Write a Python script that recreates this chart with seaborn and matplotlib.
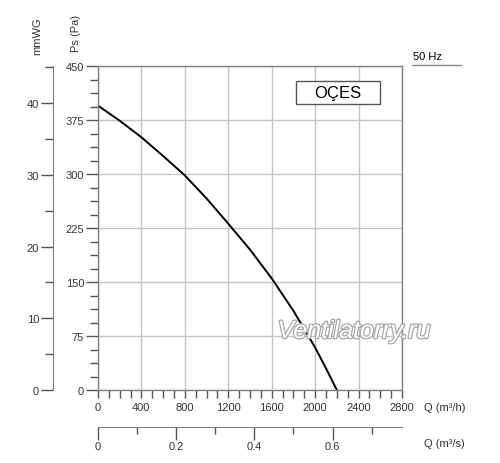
import matplotlib
matplotlib.use("Agg")
import matplotlib.pyplot as plt
import matplotlib.patheffects as pe
import seaborn as sns
import pandas as pd
import numpy as np

# curve: flow (m3/h) vs static pressure (Pa)
flow_m3h = [0, 200, 400, 600, 800, 1000, 1200, 1400, 1600, 1800, 2000, 2100, 2200]
pressure_pa = [395, 374, 351, 325, 298, 266, 231, 195, 155, 110, 59, 30, 0]

x_ticks = [0, 400, 800, 1200, 1600, 2000, 2400, 2800]
y_ticks = [0, 75, 150, 225, 300, 375, 450]
mmwg_ticks = [0, 10, 20, 30, 40]
m3s_ticks = [0, 0.2, 0.4, 0.6]

model = "OÇES"
freq = "50 Hz"
watermark = "Ventilatorry.ru"

sns.set_style("white")
plt.rcParams['font.family'] = ['Liberation Sans', 'DejaVu Sans']

W, H = 500, 464
fig = plt.figure(figsize=(W / 100, H / 100), dpi=100)

def box(x0, y0, x1, y1):
    # pixel box -> figure fraction
    return [x0 / W, 1 - y1 / H, (x1 - x0) / W, (y1 - y0) / H]

txt = "#333333"
axc = "#808080"
gridc = "#c4c4c4"
tickc = "#555555"

# main chart
ax = fig.add_axes(box(98, 67, 402, 391))
df = pd.DataFrame({"Q": flow_m3h, "Ps": pressure_pa})
sns.lineplot(data=df, x="Q", y="Ps", ax=ax, color="black", lw=1.4)
ax.set_xlim(0, 2800)
ax.set_ylim(0, 450)
ax.set_xticks(x_ticks)
ax.set_yticks(y_ticks)
ax.set_xticks(np.arange(0, 2801, 100), minor=True)
ax.set_yticks(np.arange(0, 451, 18.75), minor=True)
ax.grid(True, which="major", color=gridc, lw=1)
ax.grid(False, which="minor")
ax.set_xlabel("")
ax.set_ylabel("")
for s in ax.spines.values():
    s.set_color(axc)
    s.set_linewidth(1)
ax.tick_params(axis="both", which="both", bottom=True, left=True)
ax.tick_params(axis="y", which="major", direction="out", length=9, width=1,
               color=tickc, labelsize=8, labelcolor=txt, pad=1)
ax.tick_params(axis="y", which="minor", direction="out", length=6, width=1,
               color=tickc)
ax.tick_params(axis="x", which="both", direction="out", length=6, width=1,
               color=tickc, labelsize=8, labelcolor=txt, pad=3)

# mmWG axis on the far left
ax2 = fig.add_axes(box(53, 67, 54, 391))
ax2.set_ylim(0, 45.2)
ax2.set_xticks([])
ax2.set_yticks(mmwg_ticks)
ax2.set_yticks(np.arange(0, 46, 5), minor=True)
for k in ["top", "right", "bottom"]:
    ax2.spines[k].set_visible(False)
ax2.spines["left"].set_color(axc)
ax2.tick_params(axis="y", which="both", left=True)
ax2.tick_params(axis="y", which="major", direction="out", length=9, width=1,
                color=tickc, labelsize=8, labelcolor=txt, pad=1)
ax2.tick_params(axis="y", which="minor", direction="out", length=6, width=1,
                color=tickc)
ax2.patch.set_alpha(0)

# m3/s axis below
ax3 = fig.add_axes(box(98, 427, 402, 428))
ax3.set_xlim(0, 2800 / 3600)
ax3.set_yticks([])
ax3.set_xticks(m3s_ticks)
ax3.set_xticklabels(["0", "0.2", "0.4", "0.6"])
ax3.set_xticks(np.arange(0, 0.78, 0.1), minor=True)
for k in ["top", "right", "left"]:
    ax3.spines[k].set_visible(False)
ax3.spines["bottom"].set_color(axc)
ax3.tick_params(axis="x", which="both", bottom=True)
ax3.tick_params(axis="x", which="major", direction="out", length=9, width=1,
                color=tickc, labelsize=8, labelcolor=txt, pad=1)
ax3.tick_params(axis="x", which="minor", direction="out", length=5, width=1,
                color=tickc)
ax3.patch.set_alpha(0)

# axis titles
fig.text(37 / W, 1 - 36 / H, "mmWG", rotation=90, ha="center", va="center",
         fontsize=8, color=txt)
fig.text(76 / W, 1 - 33 / H, "Ps (Pa)", rotation=90, ha="center", va="center",
         fontsize=8, color=txt)
fig.text(424 / W, 1 - 408 / H, "Q (m³/h)", ha="left", va="center",
         fontsize=8, color=txt)
fig.text(424 / W, 1 - 444 / H, "Q (m³/s)", ha="left", va="center",
         fontsize=8, color=txt)

# 50 Hz with underline
fig.text(413 / W, 1 - 57 / H, freq, ha="left", va="center", fontsize=8, color="black")
fig.add_artist(plt.Line2D([412 / W, 461 / W], [1 - 66 / H, 1 - 66 / H],
                          color="#888888", lw=1))

# model box
fig.add_artist(plt.Rectangle((296 / W, 1 - 105 / H), 84 / W, 23 / H,
                             transform=fig.transFigure, fc="white",
                             ec="#555555", lw=1))
fig.text(338 / W, 1 - 93.5 / H, model, ha="center", va="center",
         fontsize=12, color="black")

# watermark
fig.text(354 / W, 1 - 332 / H, watermark, ha="center", va="center",
         fontsize=18, style="italic", color="white",
         path_effects=[pe.withStroke(linewidth=1.8, foreground="#a8a8a8")])

fig.savefig("out.png", dpi=100)
